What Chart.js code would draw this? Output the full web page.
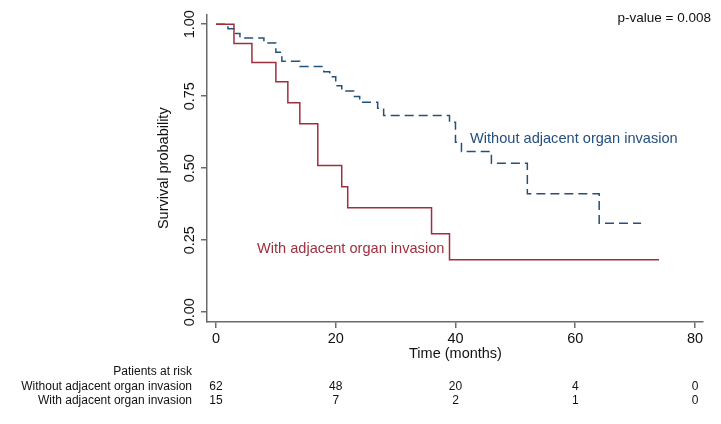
<!DOCTYPE html>
<html lang="en">
  <head>
    <meta charset="UTF-8" />
    <title>Survival by adjacent organ invasion</title>
    <script src="https://cdn.jsdelivr.net/npm/chart.js"></script>
    <style>
      html, body { margin: 0; padding: 0; background: #fff; }
      #wrap { width: 721px; height: 424px; position: relative; }
    </style>
  </head>
  <body>
    <div id="wrap"><canvas id="km" width="721" height="424"></canvas></div>

    <script>
      // data
      const withTimes = [0, 3, 6, 10, 12, 14, 17, 21, 22, 36, 39, 74];
      const withSurv = [1, 0.933, 0.867, 0.8, 0.727, 0.654, 0.509, 0.436, 0.363, 0.272, 0.182, 0.182];

      const withoutTimes = [0, 2, 3, 4, 8, 10, 11, 14, 18, 19, 20, 21, 23, 24, 27, 28, 39, 40, 41, 46, 52, 64, 71];
      const withoutSurv = [1, 0.984, 0.968, 0.952, 0.935, 0.903, 0.871, 0.853, 0.835, 0.818, 0.786, 0.768, 0.749, 0.729, 0.708, 0.683, 0.66, 0.59, 0.558, 0.517, 0.411, 0.309, 0.309];

      const xTicks = [0, 20, 40, 60, 80];
      const yTicks = [0, 0.25, 0.5, 0.75, 1];
      const yTickLabels = ["0.00", "0.25", "0.50", "0.75", "1.00"];

      const riskTimes = [0, 20, 40, 60, 80];
      const riskWithout = [62, 48, 20, 4, 0];
      const riskWith = [15, 7, 2, 1, 0];

      const seriesNames = ["With adjacent organ invasion", "Without adjacent organ invasion"];

      const red = "#9e2f3d";
      const blue = "#24507c";
      const axisGrey = "#6a6a6a";
      const font = "'Liberation Sans', Arial, Helvetica, sans-serif";

      const toPoints = (ts, ss) => ts.map((t, i) => ({ x: t, y: ss[i] }));

      // texts drawn on the canvas: y tick labels, axis titles, curve labels, risk table
      const textPlugin = {
        id: "kmtext",
        afterDraw: (chart) => {
          const ctx = chart.ctx;
          const xs = chart.scales.x;
          const ys = chart.scales.y;
          ctx.save();
          ctx.fillStyle = "#111";

          // y tick labels, rotated
          ctx.font = "14.5px " + font;
          ctx.textAlign = "center";
          ctx.textBaseline = "middle";
          yTicks.forEach((v, i) => {
            ctx.save();
            ctx.translate(190, ys.getPixelForValue(v));
            ctx.rotate(-Math.PI / 2);
            ctx.fillText(yTickLabels[i], 0, 0);
            ctx.restore();
          });

          // y title
          ctx.save();
          ctx.translate(164, (ys.getPixelForValue(0) + ys.getPixelForValue(1)) / 2);
          ctx.rotate(-Math.PI / 2);
          ctx.fillText("Survival probability", 0, 0);
          ctx.restore();

          // x title
          ctx.fillText("Time (months)", xs.getPixelForValue(40), 354);

          // p-value
          ctx.font = "13.5px " + font;
          ctx.textAlign = "right";
          ctx.textBaseline = "alphabetic";
          ctx.fillText("p-value = 0.008", 711, 22);

          // curve labels
          ctx.font = "14.6px " + font;
          ctx.textAlign = "left";
          ctx.fillStyle = blue;
          ctx.fillText(seriesNames[1], 470, 143);
          ctx.fillStyle = red;
          ctx.fillText(seriesNames[0], 257, 253);

          // patients at risk
          ctx.fillStyle = "#111";
          ctx.font = "12px " + font;
          ctx.textBaseline = "middle";
          ctx.textAlign = "right";
          ctx.fillText("Patients at risk", 192, 371.5);
          ctx.fillText(seriesNames[1], 192, 387);
          ctx.fillText(seriesNames[0], 192, 401);
          ctx.textAlign = "center";
          riskTimes.forEach((t, i) => {
            const px = xs.getPixelForValue(t);
            ctx.fillText(String(riskWithout[i]), px, 387);
            ctx.fillText(String(riskWith[i]), px, 401);
          });
          ctx.restore();
        },
      };

      new Chart(document.getElementById("km"), {
        type: "line",
        data: {
          datasets: [
            {
              label: seriesNames[0],
              data: toPoints(withTimes, withSurv),
              borderColor: red,
              borderWidth: 1.5,
              stepped: true,
              pointRadius: 0,
              fill: false,
            },
            {
              label: seriesNames[1],
              data: toPoints(withoutTimes, withoutSurv),
              borderColor: blue,
              borderWidth: 1.5,
              borderDash: [9, 5],
              stepped: true,
              pointRadius: 0,
              fill: false,
            },
          ],
        },
        options: {
          responsive: false,
          animation: false,
          devicePixelRatio: 1,
          layout: { padding: { left: 0, top: 15, right: 18, bottom: 0 } },
          plugins: {
            legend: { display: false },
            title: { display: false },
            tooltip: { enabled: false },
          },
          scales: {
            x: {
              type: "linear",
              min: -1.503,
              max: 81.34,
              afterBuildTicks: (s) => { s.ticks = xTicks.map((v) => ({ value: v })); },
              afterFit: (s) => { s.height = 102; },
              grid: {
                drawOnChartArea: false,
                drawTicks: true,
                tickLength: 6,
                color: axisGrey,
                lineWidth: 1.5,
              },
              border: { display: true, color: axisGrey, width: 1.5 },
              ticks: {
                autoSkip: false,
                maxRotation: 0,
                padding: 2,
                color: "#111",
                font: { family: font, size: 14.5 },
              },
            },
            y: {
              type: "linear",
              min: -0.034,
              max: 1.032,
              afterBuildTicks: (s) => { s.ticks = yTicks.map((v) => ({ value: v })); },
              afterFit: (s) => { s.width = 207; },
              grid: {
                drawOnChartArea: false,
                drawTicks: true,
                tickLength: 6,
                color: axisGrey,
                lineWidth: 1.5,
              },
              border: { display: true, color: axisGrey, width: 1.5 },
              ticks: { display: false },
            },
          },
        },
        plugins: [textPlugin],
      });
    </script>
  </body>
</html>
